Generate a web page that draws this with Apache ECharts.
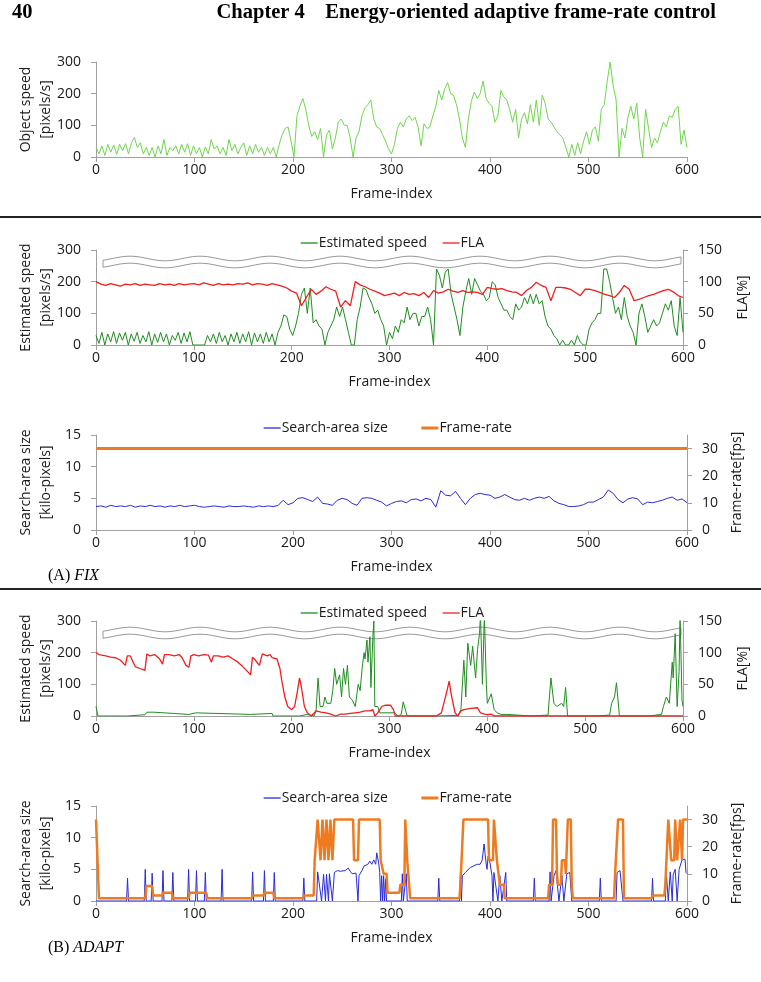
<!DOCTYPE html>
<html>
<head>
<meta charset="utf-8">
<script src="https://cdn.jsdelivr.net/npm/echarts@6/dist/echarts.min.js"></script>
<style>
  html, body { margin: 0; padding: 0; background: #fff; }
  #chart { width: 761px; height: 982px; }
</style>
</head>
<body>
<div id="chart"></div>
<script>
// ---- data ----
// object speed [pixels/s], one value every 3 frames (0..600)
const objSpeed = [
  30,10,35,5,40,15,38,8,40,20,
  42,10,45,62,30,45,10,30,5,30,
  0,35,10,55,5,30,20,35,10,40,
  15,42,5,35,10,30,0,32,10,55,
  25,35,10,30,5,55,20,40,10,30,
  45,5,35,10,40,15,30,5,30,10,
  30,0,40,70,90,95,50,0,130,160,
  185,150,100,65,80,55,90,0,70,85,
  25,60,110,120,100,100,60,0,60,80,
  130,155,165,180,120,95,90,70,50,25,
  10,40,90,110,95,120,130,115,125,95,
  35,105,90,95,130,160,210,180,215,235,
  200,195,165,120,60,30,120,175,205,185,
  200,240,185,170,160,110,130,210,190,180,
  150,110,150,60,120,140,105,165,110,180,
  100,195,170,120,110,95,80,70,60,30,
  0,40,5,45,10,50,80,40,85,95,
  50,150,165,240,300,225,180,0,90,60,
  125,160,120,170,60,0,150,90,30,60,
  45,80,110,95,130,125,150,160,40,85,
  30
];
// (A) FIX: estimated speed [pixels/s], every 3 frames
const estSpeedFix = [
  30,5,40,0,35,10,42,5,38,15,
  40,0,35,12,40,5,30,10,42,0,
  35,8,40,10,35,0,30,15,40,5,
  38,10,42,0,0,0,0,0,30,10,
  35,5,40,10,30,0,35,10,40,5,
  35,10,42,0,38,10,35,5,40,10,
  35,0,40,60,95,90,50,30,60,100,
  160,180,100,180,70,80,60,50,0,40,
  60,80,120,90,120,80,40,0,0,80,
  120,180,175,150,130,100,110,80,60,0,
  40,20,60,40,80,70,120,80,100,100,
  60,90,90,120,80,0,240,220,180,230,
  240,160,120,80,30,120,170,210,160,210,
  190,170,160,140,150,200,190,150,130,110,
  110,90,80,130,110,120,150,130,160,130,
  160,130,140,90,60,50,30,20,0,15,
  0,0,15,0,30,10,0,0,50,70,
  80,100,100,240,240,200,150,100,120,80,
  150,90,60,40,0,100,130,90,40,60,
  80,60,70,100,130,110,140,60,30,150,
  40
];
// (A) FIX: FLA [%], every 5 frames
const flaFix = [
  100,96,94,97,95,93,96,95,97,94,
  96,95,94,97,95,96,94,97,95,96,
  97,95,98,96,94,97,95,96,95,97,
  96,98,95,97,96,94,97,95,93,90,
  85,82,62,75,88,80,85,92,88,85,
  60,70,62,100,95,92,88,85,82,78,
  80,82,78,83,80,81,78,83,75,86,
  82,84,88,85,83,86,83,84,83,80,
  91,89,88,89,86,84,83,78,86,91,
  99,94,91,70,91,91,90,88,83,78,
  88,88,86,83,80,78,75,83,94,88,
  70,72,75,78,80,83,86,88,84,78,
  75
];
// (A) FIX: search-area size [kilo-pixels], every 5 frames
const searchFix = [
  3.7,3.8,3.6,3.9,3.7,3.8,3.7,3.9,3.6,3.8,
  3.7,3.9,3.7,3.8,3.6,3.8,3.7,3.9,3.7,3.8,
  3.9,3.7,3.6,3.7,3.8,3.7,3.6,3.8,3.7,3.7,
  3.8,3.7,3.6,3.8,3.7,3.8,3.7,3.9,4.7,4.0,
  4.3,5.0,5.1,4.8,4.5,5.2,4.2,4.1,3.9,4.7,
  5.0,4.8,4.2,3.9,5.0,5.1,5.0,4.7,4.4,3.8,
  4.2,4.5,4.6,4.3,4.8,4.9,4.6,5.0,4.8,3.6,
  6.2,5.5,5.4,6.1,5.0,4.0,5.0,5.6,5.8,5.6,
  5.5,5.0,5.2,5.6,5.2,4.8,4.7,5.0,4.7,5.0,
  5.2,5.0,5.3,4.6,4.2,4.0,3.7,3.7,3.8,4.0,
  4.4,4.4,4.8,5.2,6.3,5.8,4.8,4.3,4.9,5.1,
  4.9,4.0,4.4,4.3,4.5,4.7,5.0,5.2,4.7,4.9,
  4.3
];
// (A) FIX: frame-rate [fps], [frame, value]
const frameRateFix = [[0,30],[600,30]];

// (B) ADAPT, [frame, value] pairs
const estSpeedAdapt = [
  [0,30],[2,0],[32,0],[34,4],[50,4],[52,12],[59,12],[61,8],[80,8],[82,5],[95,5],[96,10],[102,10],[104,5],
  [158,5],[160,8],[180,8],[181,0],[208,0],[210,5],[216,5],[218,0],[223,0],[225,20],[227,120],[229,30],
  [232,30],[234,60],[236,40],[240,40],[242,80],[244,150],[246,100],[249,130],[251,60],[253,150],[255,100],
  [257,160],[259,60],[262,50],[265,30],[268,100],[270,80],[272,150],[274,200],[275,180],[277,240],[278,170],
  [280,250],[281,90],[283,250],[284,300],[285,30],[288,30],[290,10],[305,10],[309,0],[312,5],[314,45],
  [316,40],[318,0],[348,0],[350,2],[370,2],[373,20],[376,176],[378,60],[380,230],[383,160],[385,220],
  [388,120],[390,210],[392,260],[393,320],[395,100],[397,320],[399,100],[400,40],[402,40],[404,70],
  [407,20],[410,10],[414,5],[420,5],[422,0],[445,0],[447,3],[462,3],[465,120],[468,40],[471,30],[473,30],
  [476,40],[478,30],[480,90],[482,0],[512,0],[514,3],[525,3],[527,40],[530,60],[532,105],[535,0],[565,0],
  [567,5],[578,5],[580,30],[583,60],[586,40],[589,170],[590,120],[592,260],[594,30],[596,140],[597,320],
  [599,50],[600,30]
];
const flaAdapt = [
  [0,100],[3,97],[10,95],[15,93],[20,92],[25,88],[30,80],[32,95],[35,95],[38,85],[40,78],[45,75],[50,72],
  [52,98],[55,95],[60,97],[65,90],[68,82],[70,97],[75,97],[80,95],[85,97],[88,92],[92,80],[95,77],[97,95],
  [100,97],[105,95],[110,97],[115,96],[118,85],[120,95],[125,95],[130,93],[135,95],[140,90],[145,85],
  [150,78],[155,70],[158,65],[160,93],[163,88],[167,80],[170,98],[175,95],[178,97],[180,92],[185,90],
  [188,75],[190,55],[193,30],[196,15],[200,10],[203,15],[206,40],[208,60],[210,45],[213,15],[216,5],
  [220,0],[222,2],[225,8],[230,6],[235,5],[240,3],[245,0],[250,3],[255,3],[260,4],[265,5],[270,6],
  [275,8],[280,8],[283,10],[285,0],[288,5],[292,15],[296,17],[301,17],[304,10],[306,0],[348,0],[353,5],
  [358,35],[361,55],[363,35],[367,5],[370,0],[373,8],[376,10],[383,12],[390,13],[392,12],[393,5],[397,3],
  [400,2],[404,3],[407,0],[458,0],[460,3],[463,0],[600,0]
];
const searchAdapt = [
  [0,0],[31,0],[32,3.6],[33,0],[49,0],[50,5.0],[51,0],[56,0],[57,4.4],[58,0],[67,0],[68,4.8],[69,0],
  [77,0],[78,4.5],[79,0],[93,0],[94,5.0],[95,0],[101,0],[102,4.8],[103,0],[110,0],[111,4.5],[112,0],
  [127,0],[128,5.0],[129,0],[158,0],[159,4.6],[160,0],[170,0],[171,4.8],[172,0],[180,0],[181,4.5],[182,0],
  [210,0],[211,3.6],[212,0],[224,0],[225,4.6],[227,4.8],[229,0],[231,4.2],[233,0],[234,4.2],[236,0],
  [237,4.3],[239,4.0],[240,0],[242,4.5],[245,4.8],[248,4.7],[250,5.0],[253,4.8],[256,5.2],[258,4.7],
  [260,4.3],[262,4.2],[264,4.4],[265,4.2],[266,0],[267,4.0],[270,4.8],[272,5.5],[274,5.2],[276,5.8],
  [278,6.3],[280,5.8],[282,6.5],[284,5.8],[285,7.6],[287,6.0],[288,4.5],[289,0],[290,4.0],[291,0],
  [292,4.0],[293,0],[294,3.5],[295,0],[310,0],[311,4.3],[312,0],[314,0],[315,4.3],[316,0],[347,0],
  [348,3.6],[349,0],[369,0],[370,4.6],[371,0],[372,4.0],[375,4.5],[377,4.8],[380,5.3],[383,5.5],
  [385,5.2],[387,5.8],[390,5.8],[392,6.4],[394,9.0],[396,6.0],[397,5.0],[398,7.0],[400,6.0],[402,4.0],
  [403,0],[404,4.5],[406,4.3],[408,0],[410,4.0],[412,0],[416,4.5],[417,0],[444,0],[445,3.6],[446,0],
  [460,0],[461,4.6],[462,0],[465,4.0],[467,4.8],[470,0],[473,4.0],[475,0],[478,4.3],[481,4.5],[483,0],
  [511,0],[512,3.6],[513,0],[528,0],[529,4.5],[532,4.8],[535,0],[564,0],[565,3.6],[566,0],[578,0],
  [579,4.4],[581,0],[583,4.6],[585,0],[586,4.2],[588,5.0],[590,0],[592,5.0],[595,6.5],[598,6.6],
  [599,4.5],[600,4.3]
];
const frameRateAdapt = [
  [0,30],[2,30],[3,1],[50,1],[51,5.5],[57,5.5],[58,2],[67,2],[68,3],[77,3],[78,1],[94,1],[95,3],[112,3],
  [113,1],[158,1],[159,2],[170,2],[171,3],[180,3],[181,1],[210,1],[211,2],[221,2],[222,15],[224,15],
  [225,30],[227,30],[228,15],[229,15],[230,30],[231,30],[232,15],[233,15],[234,30],[235,30],[236,15],
  [237,15],[238,30],[239,30],[240,15],[241,15],[242,30],[261,30],[262,15],[266,15],[267,30],[288,30],
  [289,15],[291,15],[292,10],[295,10],[296,3],[308,3],[309,6],[313,6],[314,30],[315,30],[316,15],[317,10],
  [318,10],[319,1],[369,1],[370,6],[372,6],[373,30],[398,30],[399,15],[403,15],[404,30],[406,30],[407,15],
  [409,15],[410,6],[414,6],[415,1],[459,1],[460,6],[463,6],[464,30],[467,30],[468,10],[469,6],[472,6],
  [473,15],[476,15],[477,10],[478,10],[479,30],[482,30],[483,6],[484,1],[526,1],[527,10],[529,10],
  [530,30],[535,30],[536,1],[564,1],[565,2],[577,2],[578,6],[580,6],[581,30],[583,30],[584,15],[587,15],
  [588,30],[589,30],[590,15],[592,15],[593,30],[594,30],[595,15],[596,30],[600,30]
];

// axis ticks
const frameTicks = [0, 100, 200, 300, 400, 500, 600];
const speedTicks = [0, 100, 200, 300];
const flaTicks = [0, 50, 100, 150];
const areaTicks = [0, 5, 10, 15];
const fpsTicks = [0, 10, 20, 30];

function stepped(vals, step) {
  return vals.map((v, i) => [i * step, v]);
}

const FONT = 'Open Sans';
const AXIS_GRAY = '#a0a0a0';
const TXT = '#1a1a1a';

const grids = [
  { left: 96, top: 62, width: 591, height: 95 },
  { left: 96, top: 250, width: 591, height: 95 },
  { left: 96, top: 435, width: 591, height: 95 },
  { left: 96, top: 621, width: 591, height: 95 },
  { left: 96, top: 806, width: 591, height: 95 }
];

function xAxis(g) {
  return {
    type: 'value', gridIndex: g, min: 0, max: 600, interval: 100,
    name: 'Frame-index', nameLocation: 'middle', nameGap: 30,
    nameTextStyle: { fontFamily: FONT, fontSize: 14, color: TXT },
    axisLine: { lineStyle: { color: AXIS_GRAY, width: 1 } },
    axisTick: { show: true, inside: false, length: 5, lineStyle: { color: AXIS_GRAY }, customValues: frameTicks },
    axisLabel: { fontFamily: FONT, fontSize: 14, color: TXT, margin: 6, customValues: frameTicks },
    splitLine: { show: false }
  };
}

function yAxis(g, pos, max, interval, name, gap, ticks) {
  return {
    type: 'value', gridIndex: g, position: pos, min: 0, max: max, interval: interval,
    name: name, nameLocation: 'middle', nameGap: gap, nameRotate: 90, nameMoveOverlap: false,
    nameTextStyle: { fontFamily: FONT, fontSize: 14, color: TXT, lineHeight: 20 },
    axisLine: { show: true, lineStyle: { color: AXIS_GRAY, width: 1 } },
    axisTick: { show: true, length: 5, lineStyle: { color: AXIS_GRAY }, customValues: ticks },
    axisLabel: { fontFamily: FONT, fontSize: 14, color: TXT, margin: 15, customValues: ticks },
    splitLine: { show: false }
  };
}

function line(name, data, xi, yi, color, width, z) {
  return {
    name: name, type: 'line', xAxisIndex: xi, yAxisIndex: yi, data: data,
    symbol: 'none', showSymbol: false, animation: false, z: z || 2,
    lineStyle: { color: color, width: width }, itemStyle: { color: color }
  };
}

// wavy break band at the top of the speed/FLA panels
function waveBand(g) {
  const cy = grids[g].top + 12;
  const upper = [], lower = [];
  for (let x = 103; x <= 681; x += 2) {
    const d = 2.3 * Math.cos(2 * Math.PI * (x - 130) / 70);
    upper.push([x, cy - 3.5 - d]);
    lower.push([x, cy + 3.5 - d]);
  }
  return {
    type: 'polygon', silent: true, z: 1,
    shape: { points: upper.concat(lower.reverse()) },
    style: { fill: 'none', stroke: '#9a9a9a', lineWidth: 1 }
  };
}

function legend(top, left, items, gap) {
  return {
    top: top, left: left, data: items, itemGap: gap, itemWidth: 17, itemHeight: 14,
    selectedMode: false,
    itemStyle: { opacity: 0 },
    lineStyle: { width: 1.3 },
    textStyle: { fontFamily: FONT, fontSize: 14, color: TXT, padding: [0, 0, 0, -4] }
  };
}

const GREEN_LIGHT = '#6fd64d';
const GREEN = '#1f8c1f';
const RED = '#f01e1e';
const BLUE = '#2a2ad8';
const ORANGE = '#ef7b21';

const speedLegend = [{ name: 'Estimated speed' }, { name: 'FLA' }];
const areaLegend = [{ name: 'Search-area size' }, { name: 'Frame-rate', lineStyle: { width: 3 } }];

const chart = echarts.init(document.getElementById('chart'), null, { renderer: 'canvas' });
chart.setOption({
  backgroundColor: '#fff',
  animation: false,
  grid: grids,
  xAxis: [0, 1, 2, 3, 4].map(xAxis),
  yAxis: [
    yAxis(0, 'left', 300, 100, 'Object speed\n[pixels/s]', 40, speedTicks),
    yAxis(1, 'left', 300, 100, 'Estimated speed\n[pixels/s]', 40, speedTicks),
    yAxis(1, 'right', 150, 50, 'FLA[%]', 50, flaTicks),
    yAxis(2, 'left', 15, 5, 'Search-area size\n[kilo-pixels]', 40, areaTicks),
    yAxis(2, 'right', 35, 10, 'Frame-rate[fps]', 40, fpsTicks),
    yAxis(3, 'left', 300, 100, 'Estimated speed\n[pixels/s]', 40, speedTicks),
    yAxis(3, 'right', 150, 50, 'FLA[%]', 50, flaTicks),
    yAxis(4, 'left', 15, 5, 'Search-area size\n[kilo-pixels]', 40, areaTicks),
    yAxis(4, 'right', 35, 10, 'Frame-rate[fps]', 40, fpsTicks)
  ],
  legend: [
    legend(231, 295, speedLegend, 15),
    legend(416, 258, areaLegend, 32),
    legend(601, 295, speedLegend, 15),
    legend(786, 258, areaLegend, 32)
  ],
  series: [
    line('Object speed', stepped(objSpeed, 3), 0, 0, GREEN_LIGHT, 1),
    line('Estimated speed', stepped(estSpeedFix, 3), 1, 1, GREEN, 1),
    line('FLA', stepped(flaFix, 5), 1, 2, RED, 1.3, 3),
    line('Search-area size', stepped(searchFix, 5), 2, 3, BLUE, 1),
    line('Frame-rate', frameRateFix, 2, 4, ORANGE, 3, 3),
    line('Estimated speed', estSpeedAdapt, 3, 5, GREEN, 1),
    line('FLA', flaAdapt, 3, 6, RED, 1.3, 3),
    line('Search-area size', searchAdapt, 4, 7, BLUE, 1),
    line('Frame-rate', frameRateAdapt, 4, 8, ORANGE, 2.5, 3)
  ],
  graphic: [
    { type: 'text', left: 12, top: 2, style: { text: '40', font: 'bold 20.5px "Liberation Serif"', fill: '#000' } },
    { type: 'text', right: 45, top: 2, style: { text: 'Chapter 4    Energy-oriented adaptive frame-rate control', font: 'bold 20.5px "Liberation Serif"', fill: '#000' } },
    { type: 'rect', silent: true, shape: { x: 0, y: 216, width: 761, height: 2 }, style: { fill: '#222' } },
    { type: 'rect', silent: true, shape: { x: 0, y: 588, width: 761, height: 2 }, style: { fill: '#222' } },
    { type: 'text', left: 48, top: 568, style: { text: '(A) {i|FIX}', font: '16px "Liberation Serif"', fill: '#000', rich: { i: { fontStyle: 'italic', fontFamily: 'Liberation Serif', fontSize: 16 } } } },
    { type: 'text', left: 48, top: 940, style: { text: '(B) {i|ADAPT}', font: '16px "Liberation Serif"', fill: '#000', rich: { i: { fontStyle: 'italic', fontFamily: 'Liberation Serif', fontSize: 16 } } } },
    waveBand(1),
    waveBand(3)
  ]
});
</script>
</body>
</html>
